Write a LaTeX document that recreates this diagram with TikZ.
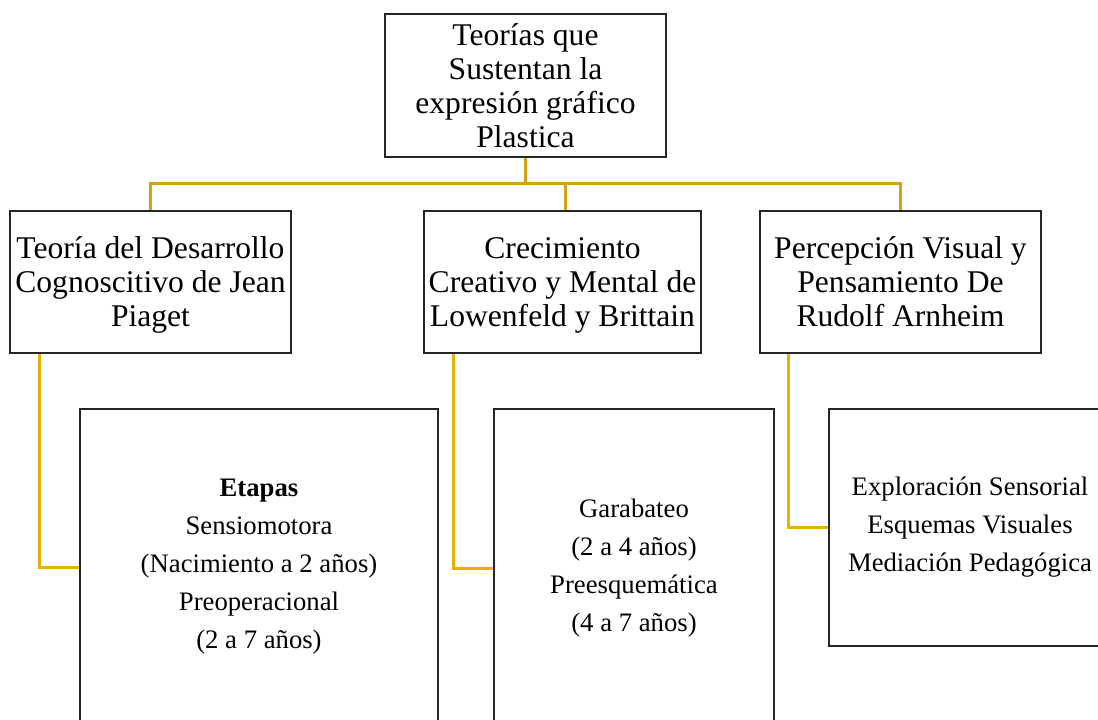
\documentclass[tikz,border=0pt]{standalone}
\usepackage{fontspec}
\setmainfont{Liberation Serif}
\definecolor{boxline}{RGB}{38,38,38}
\definecolor{topgold}{RGB}{212,163,10}
\definecolor{lowgold}{RGB}{232,176,0}
\begin{document}
\begin{tikzpicture}[x=1pt,y=-1pt,
  box/.style={draw=boxline,line width=2pt,fill=white,inner sep=0pt,align=center},
  big/.style={box,font=\fontsize{31.6}{34}\selectfont},
  small/.style={box,font=\fontsize{26.7}{38}\selectfont},
  topline/.style={draw=topgold,line width=3pt},
  lowline/.style={draw=lowgold,line width=3pt}]
\useasboundingbox (0,0) rectangle (1098,720);

\node[big,minimum width=281pt,minimum height=143pt] (top) at (525.5,85.5)
  {Teorías que\\Sustentan la\\expresión gráfico\\Plastica};

\node[big,minimum width=281pt,minimum height=142pt,text depth=-3pt] (A) at (150.5,282)
  {Teoría del Desarrollo\\Cognoscitivo de Jean\\Piaget};
\node[big,minimum width=277pt,minimum height=142pt,text depth=-3pt] (B) at (562.5,282)
  {Crecimiento\\Creativo y Mental de\\Lowenfeld y Brittain};
\node[big,minimum width=281pt,minimum height=142pt,text depth=-3pt] (C) at (900.5,282)
  {Percepción Visual y\\Pensamiento De\\Rudolf Arnheim};

\node[small,minimum width=358pt,minimum height=316pt] (D) at (259,567)
  {\textbf{Etapas}\\Sensiomotora\\(Nacimiento a 2 años)\\Preoperacional\\(2 a 7 años)};
\node[small,minimum width=280pt,minimum height=318pt] (E) at (634,568)
  {Garabateo\\(2 a 4 años)\\Preesquemática\\(4 a 7 años)};
\node[small,minimum width=282pt,minimum height=237pt] (F) at (970,527.5)
  {Exploración Sensorial\\Esquemas Visuales\\Mediación Pedagógica};

\coordinate (bus) at (525,183);
\draw[topline] (top.south) -- (top.south |- bus);
\draw[topline] (A.north) |- (C.north |- bus) -- (C.north);
\draw[topline] ([xshift=2.5pt]B.north) -- ([xshift=2.5pt]B.north |- bus);

\draw[lowline] ([xshift=30pt]A.south west) |- (D.west);
\draw[lowline] ([xshift=30pt]B.south west) |- (E.west);
\draw[lowline] ([xshift=29pt]C.south west) |- (F.west);
\end{tikzpicture}
\end{document}
